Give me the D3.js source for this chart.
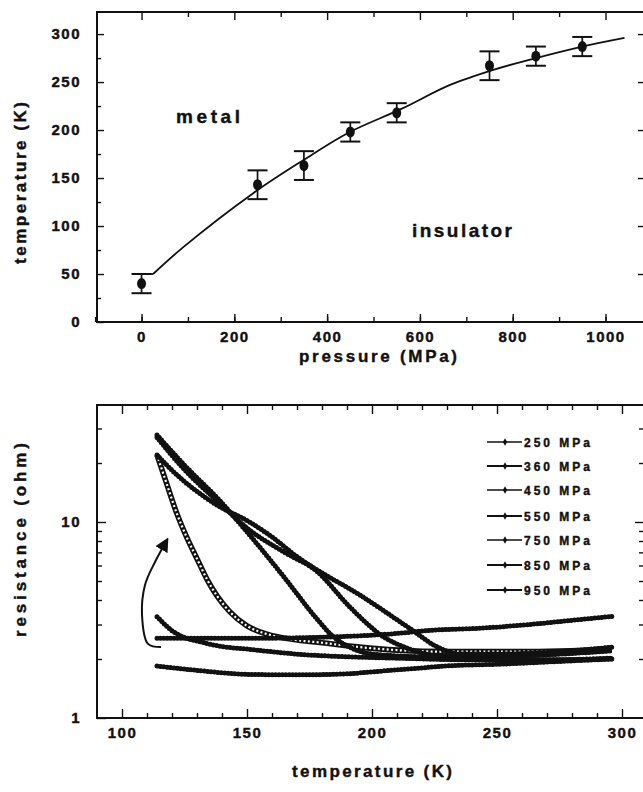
<!DOCTYPE html>
<html>
<head>
<meta charset="utf-8">
<script src="https://cdn.jsdelivr.net/npm/d3@7"></script>
<style>
body { margin: 0; background: #fff; }
text { font-family: "Liberation Sans", Arial, sans-serif; font-weight: bold; fill: #111; stroke: #111; stroke-width: 0.4px; }
</style>
</head>
<body>
<svg id="chart" width="643" height="792"></svg>
<script>
"use strict";

// top panel: transition temperature vs pressure
var pressures = [0, 250, 350, 450, 550, 750, 850, 950];
var transitionT = [40, 143, 163, 198, 218, 267, 277, 287];
var errT = [10, 15, 15, 10, 10, 15, 10, 10];
var fitP = [25, 90, 240, 350, 445, 560, 665, 760, 842, 950, 1041];
var fitT = [50, 78, 134, 169, 197, 222, 247, 263, 274, 287, 296];
var pressureTicks = [0, 200, 400, 600, 800, 1000];

// bottom panel: resistance vs temperature, [T (K), R (ohm)]
var curve250 = [[114, 22], [118, 15.5], [122, 11], [126, 8.3], [130, 6.5], [134, 5.1], [138, 4.2], [143, 3.5],
    [150, 2.95], [158, 2.68], [168, 2.52], [180, 2.42], [195, 2.3], [210, 2.22], [230, 2.18], [260, 2.18], [296, 2.25]];
var curve350 = [[114, 27.8], [125, 19.5], [139, 12.9], [151, 8.6], [164.5, 5.3], [178, 3.2], [184.5, 2.6],
    [191, 2.3], [200, 2.12], [220, 2.05], [250, 2.0], [275, 1.98], [296, 2.0]];
var curve450 = [[114, 27], [125, 18.5], [139, 12.5], [151, 9.1], [165, 7.0], [178, 5.6], [191, 3.7],
    [204.5, 2.6], [215, 2.25], [225, 2.08], [240, 2.05], [270, 2.1], [296, 2.2]];
var curve550 = [[114, 22], [120.5, 18.1], [138, 12.2], [151, 10.0], [160.5, 8.3], [170, 6.65], [178, 5.7],
    [194, 4.33], [215, 2.87], [226, 2.31], [235, 2.12], [250, 2.12], [275, 2.18], [296, 2.3]];
var curve750 = [[114, 3.29], [120.5, 2.76], [134, 2.4], [154, 2.22], [174, 2.1], [187, 2.06], [210, 2.02],
    [240, 1.98], [270, 1.98], [296, 2.02]];
var curve850 = [[114, 2.55], [150, 2.55], [187, 2.6], [210, 2.7], [223, 2.8], [243, 2.87], [263, 3.0],
    [280, 3.15], [296, 3.3]];
var curve950 = [[114, 1.84], [130, 1.75], [150, 1.67], [170, 1.66], [190, 1.68], [200, 1.72], [215, 1.78],
    [232, 1.85], [250, 1.88], [270, 1.93], [296, 2.0]];
var legendLabels = ["250 MPa", "360 MPa", "450 MPa", "550 MPa", "750 MPa", "850 MPa", "950 MPa"];
var arrowPath = [[115.6, 2.30], [110.4, 2.39], [108, 3.36], [109.2, 4.77], [113.2, 6.25], [118, 8.1]];
var tempTicks = [100, 150, 200, 250, 300];

var svg = d3.select("#chart");

// ---------- top panel ----------
var x1 = d3.scaleLinear().domain([-96, 1083]).range([97, 644]);
var y1 = d3.scaleLinear().domain([0, 323]).range([322, 12]);

var topPanel = svg.append("g");

function inwardAxis(g, axis) {
    g.call(axis);
    g.select(".domain").remove();
    g.selectAll("line").attr("stroke", "#111").attr("stroke-width", 1.4);
    g.selectAll("text").attr("fill", "#111").style("font-size", "15px").style("letter-spacing", "1.5px")
        .attr("font-family", null);
    return g;
}

// major / minor ticks on four sides
inwardAxis(topPanel.append("g").attr("transform", "translate(0,322)"),
    d3.axisBottom(x1).tickValues(pressureTicks).tickSize(-8).tickPadding(9).tickFormat(d3.format("d")));
inwardAxis(topPanel.append("g").attr("transform", "translate(0,322)"),
    d3.axisBottom(x1).tickValues(d3.range(-100, 1100, 100)).tickSize(-5).tickFormat(""));
inwardAxis(topPanel.append("g").attr("transform", "translate(0,12)"),
    d3.axisTop(x1).tickValues(pressureTicks).tickSize(-8).tickFormat(""));
inwardAxis(topPanel.append("g").attr("transform", "translate(0,12)"),
    d3.axisTop(x1).tickValues(d3.range(100, 1100, 200)).tickSize(-5).tickFormat(""));
inwardAxis(topPanel.append("g").attr("transform", "translate(97,0)"),
    d3.axisLeft(y1).tickValues(d3.range(0, 301, 50)).tickSize(-7).tickPadding(16));
inwardAxis(topPanel.append("g").attr("transform", "translate(97,0)"),
    d3.axisLeft(y1).tickValues(d3.range(25, 301, 50)).tickSize(-4).tickFormat(""));
inwardAxis(topPanel.append("g").attr("transform", "translate(644,0)"),
    d3.axisRight(y1).tickValues(d3.range(50, 301, 50)).tickSize(-6).tickFormat(""));

topPanel.append("rect").attr("x", 97).attr("y", 12).attr("width", 547).attr("height", 310)
    .attr("fill", "none").attr("stroke", "#111").attr("stroke-width", 2);

var fitLine = d3.line()
    .x(function(d, i) { return x1(fitP[i]); })
    .y(function(d) { return y1(d); })
    .curve(d3.curveCatmullRom);
topPanel.append("path").datum(fitT).attr("d", fitLine)
    .attr("fill", "none").attr("stroke", "#111").attr("stroke-width", 1.8);
// flat start at the first error cap
topPanel.append("line").attr("x1", x1(0)).attr("x2", x1(25)).attr("y1", y1(50)).attr("y2", y1(50))
    .attr("stroke", "#111").attr("stroke-width", 1.8);

var bars = topPanel.append("g").selectAll("g").data(pressures).enter().append("g");
bars.append("line")
    .attr("x1", function(d) { return x1(d); }).attr("x2", function(d) { return x1(d); })
    .attr("y1", function(d, i) { return y1(transitionT[i] - errT[i]); })
    .attr("y2", function(d, i) { return y1(transitionT[i] + errT[i]); })
    .attr("stroke", "#111").attr("stroke-width", 1.7);
[-1, 1].forEach(function(s) {
    bars.append("line")
        .attr("x1", function(d) { return x1(d) - 10; }).attr("x2", function(d) { return x1(d) + 10; })
        .attr("y1", function(d, i) { return y1(transitionT[i] + s * errT[i]); })
        .attr("y2", function(d, i) { return y1(transitionT[i] + s * errT[i]); })
        .attr("stroke", "#111").attr("stroke-width", 2);
});
bars.append("ellipse")
    .attr("cx", function(d) { return x1(d); })
    .attr("cy", function(d, i) { return y1(transitionT[i]); })
    .attr("rx", 4.5).attr("ry", 5.5).attr("fill", "#111");

topPanel.append("text").attr("x", 208).attr("y", 123).attr("text-anchor", "middle")
    .attr("textLength", 64).attr("lengthAdjust", "spacing").style("font-size", "19px").text("metal");
topPanel.append("text").attr("x", 462).attr("y", 237).attr("text-anchor", "middle")
    .attr("textLength", 100).attr("lengthAdjust", "spacing").style("font-size", "19px").text("insulator");

topPanel.append("text").attr("transform", "translate(26,183) rotate(-90)").attr("text-anchor", "middle")
    .attr("textLength", 162).attr("lengthAdjust", "spacing").style("font-size", "17px").text("temperature (K)");
topPanel.append("text").attr("x", 378).attr("y", 362).attr("text-anchor", "middle")
    .attr("textLength", 158).attr("lengthAdjust", "spacing").style("font-size", "17px").text("pressure (MPa)");

// ---------- bottom panel ----------
var x2 = d3.scaleLinear().domain([90, 310]).range([97, 647]);
var y2 = d3.scaleLog().domain([1, 40]).range([718, 404]);

var bot = svg.append("g");
var minorR = [2, 3, 4, 5, 6, 7, 8, 9, 20, 30];

inwardAxis(bot.append("g").attr("transform", "translate(0,718)"),
    d3.axisBottom(x2).tickValues(tempTicks).tickSize(-9).tickPadding(9).tickFormat(d3.format("d")));
inwardAxis(bot.append("g").attr("transform", "translate(0,718)"),
    d3.axisBottom(x2).tickValues(d3.range(110, 310, 10).filter(function(d) { return d % 50; }))
        .tickSize(-5).tickFormat(""));
inwardAxis(bot.append("g").attr("transform", "translate(0,405)"),
    d3.axisTop(x2).tickValues(tempTicks).tickSize(-9).tickFormat(""));
inwardAxis(bot.append("g").attr("transform", "translate(0,405)"),
    d3.axisTop(x2).tickValues(d3.range(110, 310, 10).filter(function(d) { return d % 50; }))
        .tickSize(-5).tickFormat(""));
inwardAxis(bot.append("g").attr("transform", "translate(97,0)"),
    d3.axisLeft(y2).tickValues([1, 10]).tickSize(-9).tickPadding(16).tickFormat(d3.format("d")));
inwardAxis(bot.append("g").attr("transform", "translate(97,0)"),
    d3.axisLeft(y2).tickValues(minorR).tickSize(-5).tickFormat(""));
inwardAxis(bot.append("g").attr("transform", "translate(644,0)"),
    d3.axisRight(y2).tickValues([10]).tickSize(-9).tickFormat(""));
inwardAxis(bot.append("g").attr("transform", "translate(644,0)"),
    d3.axisRight(y2).tickValues(minorR).tickSize(-5).tickFormat(""));

bot.append("rect").attr("x", 97).attr("y", 405).attr("width", 550).attr("height", 313)
    .attr("fill", "none").attr("stroke", "#111").attr("stroke-width", 2);

var rLine = d3.line()
    .x(function(d) { return x2(d[0]); })
    .y(function(d) { return y2(d[1]); })
    .curve(d3.curveMonotoneX);

var curves = [curve250, curve350, curve450, curve550, curve750, curve850, curve950];
curves.forEach(function(c, i) {
    var open = (i === 0);
    bot.append("path").datum(c).attr("d", rLine).attr("fill", "none")
        .attr("stroke", "#111").attr("stroke-width", open ? 5.6 : 3.6)
        .attr("stroke-linejoin", "round");
    if (open) {
        // hollow symbols along the trace
        bot.append("path").datum(c).attr("d", rLine).attr("fill", "none")
            .attr("stroke", "#fff").attr("stroke-width", 2.2)
            .attr("stroke-dasharray", "2 2.4");
    } else {
        // beaded symbols along the trace
        bot.append("path").datum(c).attr("d", rLine).attr("fill", "none")
            .attr("stroke", "#111").attr("stroke-width", 5)
            .attr("stroke-linecap", "round").attr("stroke-dasharray", "0 3.4");
    }
});

// arrow annotation
svg.append("defs").append("marker").attr("id", "head")
    .attr("viewBox", "0 0 10 10").attr("refX", 8).attr("refY", 5)
    .attr("markerWidth", 7).attr("markerHeight", 7).attr("orient", "auto")
    .append("path").attr("d", "M0,0 L10,5 L0,10 Z").attr("fill", "#111");
bot.append("path").datum(arrowPath)
    .attr("d", d3.line().x(function(d) { return x2(d[0]); }).y(function(d) { return y2(d[1]); })
        .curve(d3.curveCatmullRom))
    .attr("fill", "none").attr("stroke", "#111").attr("stroke-width", 2)
    .attr("marker-end", "url(#head)");

// legend
var legendY = [442, 466, 490, 516, 540, 565, 590];
var leg = bot.append("g").selectAll("g").data(legendLabels).enter().append("g")
    .attr("transform", function(d, i) { return "translate(0," + legendY[i] + ")"; });
leg.append("line").attr("x1", 487).attr("x2", 522).attr("y1", 0).attr("y2", 0)
    .attr("stroke", "#111").attr("stroke-width", function(d, i) { return [1.3, 2, 1.4, 1.8, 1.5, 2, 2.2][i]; });
leg.append("path").attr("transform", "translate(505,0)")
    .attr("d", d3.symbol().type(d3.symbolDiamond).size(16)).attr("fill", "#111");
leg.append("text").attr("x", 524).attr("y", 4.5)
    .attr("textLength", 66).attr("lengthAdjust", "spacing").style("font-size", "12px")
    .text(function(d) { return d; });

bot.append("text").attr("transform", "translate(26,540) rotate(-90)").attr("text-anchor", "middle")
    .attr("textLength", 194).attr("lengthAdjust", "spacing").style("font-size", "17px").text("resistance (ohm)");
bot.append("text").attr("x", 372).attr("y", 777).attr("text-anchor", "middle")
    .attr("textLength", 160).attr("lengthAdjust", "spacing").style("font-size", "17px").text("temperature (K)");
</script>
</body>
</html>
